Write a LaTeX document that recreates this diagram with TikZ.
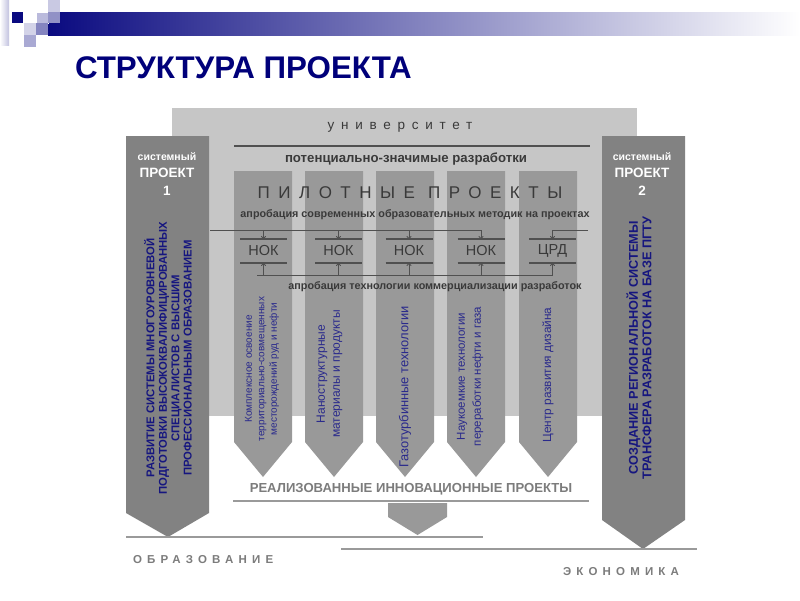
\documentclass[tikz,border=0pt]{standalone}
\usepackage{fontspec}
\setmainfont{Liberation Sans}
\usetikzlibrary{arrows.meta,calc}
\definecolor{titleblue}{HTML}{00007A}
\definecolor{barnavy}{HTML}{0A0A80}
\definecolor{univgray}{HTML}{C6C6C6}
\definecolor{pilotgray}{HTML}{999999}
\definecolor{sidegray}{HTML}{828282}
\definecolor{darktxt}{HTML}{3A3A3A}
\definecolor{darkline}{HTML}{505050}
\definecolor{bluetxt}{HTML}{2A2A8C}
\definecolor{navytxt}{HTML}{16167F}
\definecolor{lowline}{HTML}{9A9A9A}
\definecolor{lowtxt}{HTML}{7C7C7C}
\tikzset{
  every node/.style={inner sep=0pt, outer sep=0pt},
  univbox/.style={fill=univgray},
  sidecol/.style={fill=sidegray},
  pilotcol/.style={fill=pilotgray},
  sidehead/.style={text=white, font=\bfseries\fontsize{10.5}{12}\selectfont},
  sidebig/.style={text=white, font=\bfseries\fontsize{13.5}{15}\selectfont},
  sidetext/.style={rotate=90, align=center, text=navytxt},
  pilottext/.style={rotate=90, align=center, text=bluetxt},
  midlabel/.style={text=darktxt, font=\bfseries\fontsize{10.8}{12}\selectfont},
  nokbox/.style={minimum width=47pt, minimum height=24pt, text=darktxt, font=\fontsize{14.5}{16}\selectfont},
  nokline/.style={draw=darkline, line width=1.2pt},
  feed/.style={draw=darkline, line width=1pt},
  feedarrow/.style={draw=darkline, line width=1pt, -{To[length=3pt,width=5pt]}},
  lowrule/.style={draw=lowline, line width=2pt},
  lowlabel/.style={text=lowtxt, font=\bfseries\fontsize{11.5}{13}\selectfont\addfontfeature{LetterSpace=45}},
}
\begin{document}
\begin{tikzpicture}[x=1pt,y=-1pt]
\useasboundingbox (0,0) rectangle (800,600);
\fill[white] (0,0) rectangle (800,600);

% header decoration
\shade[left color=barnavy, right color=white] (48,12) rectangle (800,35);
\fill[left color=white, right color=white!75!barnavy] (0,0) rectangle (9,45);
\fill[barnavy] (12,12) rectangle (23,23);
\fill[barnavy!22] (48,0) rectangle (60,12);
\fill[barnavy!28] (36,12) rectangle (48,23);
\draw[white, line width=0.6pt] (36,12) rectangle (48,23);
\fill[barnavy!45] (48,12) rectangle (60,23);
\fill[barnavy!18] (24,23) rectangle (36,35);
\fill[barnavy!50] (36,23) rectangle (48,35);
\fill[barnavy!35] (24,35) rectangle (36,47);

% title
\node[anchor=west, text=titleblue, font=\bfseries\fontsize{31.3}{35}\selectfont] (title) at (75,68) {СТРУКТУРА ПРОЕКТА};

% university block
\fill[univbox] (172,108) rectangle (637,416);

% side columns
\fill[sidecol] (126,136) -- (209,136) -- (209,513) -- (168,537) -- (126,513) -- cycle;
\fill[sidecol] (602,136) -- (685,136) -- (685,520) -- (643,549) -- (602,520) -- cycle;

% pilot columns
\foreach \xa/\xb in {234/292, 305/363, 376/434, 447/505, 519/577}{
  \fill[pilotcol] (\xa,171) -- (\xb,171) -- (\xb,442) -- ({(\xa+\xb)/2},477) -- (\xa,442) -- cycle;
}

% university texts
\node[text=darktxt, font=\fontsize{13.5}{15}\selectfont\addfontfeature{LetterSpace=50}] (univ) at (400,127) {университет};
\coordinate (ul) at (234,146);
\coordinate (ur) at (590,146);
\draw[draw=darkline, line width=1.5pt] (ul) -- (ur);
\node[text=darktxt, font=\bfseries\fontsize{13.2}{15}\selectfont] (potential) at (406,159) {потенциально-значимые разработки};
\node[text=darktxt, font=\fontsize{17}{19}\selectfont\addfontfeature{LetterSpace=50}] (pilot) at (410,193) {ПИЛОТНЫЕ ПРОЕКТЫ};

% side headers
\node[sidehead] (s1a) at (167,157) {системный};
\node[sidebig] (s1b) at (167,173) {ПРОЕКТ};
\node[sidebig] (s1c) at (167,191) {1};
\node[sidehead] (s2a) at (642,157) {системный};
\node[sidebig] (s2b) at (642,173) {ПРОЕКТ};
\node[sidebig] (s2c) at (642,191) {2};

% side texts
\node[sidetext, font=\bfseries\fontsize{11.3}{12.4}\selectfont] (s1t) at (168,358)
  {РАЗВИТИЕ СИСТЕМЫ МНОГОУРОВНЕВОЙ\\ПОДГОТОВКИ ВЫСОКОКВАЛИФИЦИРОВАННЫХ\\СПЕЦИАЛИСТОВ С ВЫСШИМ\\ПРОФЕССИОНАЛЬНЫМ ОБРАЗОВАНИЕМ};
\node[sidetext, font=\bfseries\fontsize{12.7}{13.5}\selectfont] (s2t) at (639,348)
  {СОЗДАНИЕ РЕГИОНАЛЬНОЙ СИСТЕМЫ\\ТРАНСФЕРА РАЗРАБОТОК НА БАЗЕ ПГТУ};

% approbation labels
\node[midlabel] (appr1) at (415,215) {апробация современных образовательных методик на проектах};
\node[midlabel] (appr2) at (435,287) {апробация технологии коммерциализации разработок};

% NOK boxes
\node[nokbox] (nok1) at (263.5,251) {НОК};
\node[nokbox] (nok2) at (338.5,251) {НОК};
\node[nokbox] (nok3) at (409,251) {НОК};
\node[nokbox] (nok4) at (481,251) {НОК};
\node[nokbox] (nok5) at (552.5,251) {ЦРД};
\foreach \n in {nok1,nok2,nok3,nok4,nok5}{
  \draw[nokline] (\n.north west) -- (\n.north east);
  \draw[nokline] (\n.south west) -- (\n.south east);
}

% feeds from above
\coordinate (ta) at (210,230);
\coordinate (tc) at (588,230);
\draw[feedarrow] (ta) -| (nok4.north);
\draw[feedarrow] (nok1.north |- ta) -- (nok1.north);
\draw[feedarrow] (nok2.north |- ta) -- (nok2.north);
\draw[feedarrow] (nok3.north |- ta) -- (nok3.north);
\draw[feedarrow] (tc) -| (nok5.north);

% feeds from below
\coordinate (ba) at (257,275);
\draw[feed] (ba) -- (nok5.south |- ba);
\foreach \n in {nok1,nok2,nok3,nok4,nok5}{
  \draw[feedarrow] (\n.south |- ba) -- (\n.south);
}

% pilot texts
\node[pilottext, font=\fontsize{10}{12.5}\selectfont] (p1) at (262,369)
  {Комплексное освоение\\территориально-совмещенных\\месторождений руд и нефти};
\node[pilottext, font=\fontsize{12}{15}\selectfont] (p2) at (329.5,374)
  {Наноструктурные\\материалы и продукты};
\node[pilottext, font=\fontsize{12.9}{14}\selectfont] (p3) at (405,387)
  {Газотурбинные технологии};
\node[pilottext, font=\fontsize{11.5}{16}\selectfont] (p4) at (470,376.5)
  {Наукоемкие технологии\\переработки нефти и газа};
\node[pilottext, font=\fontsize{11.8}{13}\selectfont] (p5) at (548,375)
  {Центр развития дизайна};

% realised projects
\node[text=lowtxt, font=\bfseries\fontsize{13.1}{15}\selectfont] (real) at (411,489) {РЕАЛИЗОВАННЫЕ ИННОВАЦИОННЫЕ ПРОЕКТЫ};
\coordinate (rl) at (233,501);
\coordinate (rr) at (589,501);
\draw[lowrule] (rl) -- (rr);
\fill[pilotgray] (388,503) -- (447,503) -- (447,517) -- (417.5,535) -- (388,517) -- cycle;

% bottom rules
\coordinate (ea) at (126,537);
\coordinate (eb) at (483,537);
\coordinate (ec) at (341,549);
\coordinate (ed) at (697,549);
\draw[lowrule] (ea) -- (eb);
\draw[lowrule] (ec) -- (ed);
\node[lowlabel, anchor=west] (edu) at (133,560) {ОБРАЗОВАНИЕ};
\node[lowlabel, anchor=east] (eco) at (679,572) {ЭКОНОМИКА};
\end{tikzpicture}
\end{document}
